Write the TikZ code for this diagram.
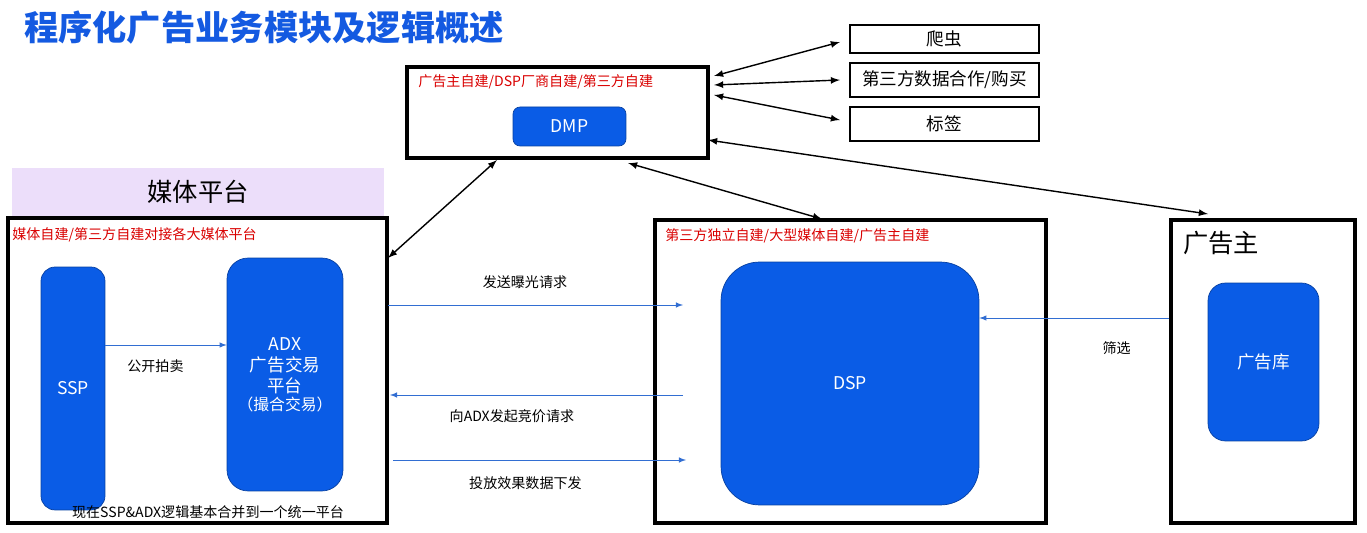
\documentclass[tikz,border=0pt]{standalone}
\usepackage{fontspec}
\setmainfont{Noto Sans CJK SC}
\usetikzlibrary{positioning,arrows}
\definecolor{mblue}{RGB}{10,92,230}
\definecolor{tblue}{RGB}{20,90,225}
\definecolor{lpurple}{RGB}{236,222,250}
\definecolor{aline}{RGB}{50,110,210}
\begin{document}
\begin{tikzpicture}[x=0.02cm,y=-0.02cm]
\tikzstyle{frame}=[draw=black,line width=1.8pt,inner sep=0pt]
\tikzstyle{module}=[draw=mblue!70!black,fill=mblue,rounded corners=8pt,text=white,font=\normalsize,align=center,inner sep=0pt]
\tikzstyle{tag}=[draw=black,line width=1.4pt,minimum width=3.78cm,minimum height=0.56cm,font=\normalsize]
\tikzstyle{red}=[text=red!85!black,font=\footnotesize,anchor=west,inner sep=0pt]
\tikzstyle{flow}=[-latex,aline,thin]
\tikzstyle{link}=[latex-latex,black,thick]
\tikzstyle{note}=[font=\footnotesize]

\useasboundingbox (0,0) rectangle (1367,533);
\node[anchor=west,text=tblue,font=\bfseries\fontsize{19.5}{23}\selectfont] (title) at (18,28) {程序化广告业务模块及逻辑概述};

% DMP
\node[frame,minimum width=6.02cm,minimum height=1.82cm] (dmpbox) at (557.5,112.5) {};
\node[red] (dmpsrc) at (418,82) {广告主自建/DSP厂商自建/第三方自建};
\node[module,rounded corners=4pt,minimum width=2.26cm,minimum height=0.78cm] (dmp) at (569.5,126.5) {DMP};
\node[tag] (crawl) at (944.5,39) {爬虫};
\node[tag,minimum height=0.68cm] (third) at (944.5,80) {第三方数据合作/购买};
\node[tag,minimum height=0.68cm] (label) at (944.5,124) {标签};
\coordinate (d1) at (714,76);
\coordinate (d2) at (714,85);
\coordinate (d3) at (714,95);
\coordinate (c1) at (840,42);
\coordinate (c2) at (840,80);
\coordinate (c3) at (840,120);
\draw[link] (d1) -- (c1);
\draw[link] (d2) -- (c2);
\draw[link] (d3) -- (c3);

% media
\node[fill=lpurple,minimum width=7.44cm,minimum height=0.96cm,font=\Large] (media) at (198,192) {媒体平台};
\node[frame,minimum width=7.58cm,minimum height=6.1cm] (mediabox) at (197.5,370.5) {};
\node[red] (mediasrc) at (12,235) {媒体自建/第三方自建对接各大媒体平台};
\node[module,minimum width=1.28cm,minimum height=4.86cm] (ssp) at (73,388.5) {SSP};
\node[module,rounded corners=12pt,minimum width=2.32cm,minimum height=4.66cm] (adx) at (285,374.5) {ADX\\广告交易\\平台\\[-2pt]{\small（撮合交易）}};
\draw[flow] (ssp.east |- 0,345) -- node[note,black,below=5pt,xshift=-6pt]{公开拍卖} (adx.west |- 0,345);
\node[note] (merge) at (208,512) {现在SSP\&ADX逻辑基本合并到一个统一平台};

% DSP
\node[frame,minimum width=7.82cm,minimum height=6.06cm] (dspbox) at (850.5,371.5) {};
\node[red] (dspsrc) at (665,236) {第三方独立自建/大型媒体自建/广告主自建};
\node[module,rounded corners=22pt,minimum width=5.16cm,minimum height=4.86cm] (dsp) at (850,383.5) {DSP};

% advertiser
\node[frame,minimum width=3.68cm,minimum height=6.06cm] (adbox) at (1263,371.5) {};
\node[font=\Large] (adv) at (1221,243) {广告主};
\node[module,rounded corners=10pt,minimum width=2.22cm,minimum height=3.16cm] (lib) at (1263.5,362) {广告库};

% flows
\coordinate (m1) at (388,305); \coordinate (p1) at (683,305);
\coordinate (m2) at (390,395); \coordinate (p2) at (683,395);
\coordinate (m3) at (393,460); \coordinate (p3) at (686,460);
\draw[flow] (m1) -- node[note,black,above=6pt,xshift=-6pt]{发送曝光请求} (p1);
\draw[flow] (p2) -- node[note,black,below=5pt,xshift=-14pt]{向ADX发起竞价请求} (m2);
\draw[flow] (m3) -- node[note,black,below=6pt,xshift=-8pt]{投放效果数据下发} (p3);
\draw[flow] (adbox.west |- 0,318) -- node[note,black,below=10pt,xshift=24pt]{筛选} (dsp.east |- 0,318);

% DMP links
\coordinate (e1) at (497,160); \coordinate (f1) at (388,258);
\coordinate (e2) at (628,163); \coordinate (f2) at (822,219);
\coordinate (e3) at (708,140); \coordinate (f3) at (1208,214);
\draw[link] (e1) -- (f1);
\draw[link] (e2) -- (f2);
\draw[link] (e3) -- (f3);
\end{tikzpicture}
\end{document}
